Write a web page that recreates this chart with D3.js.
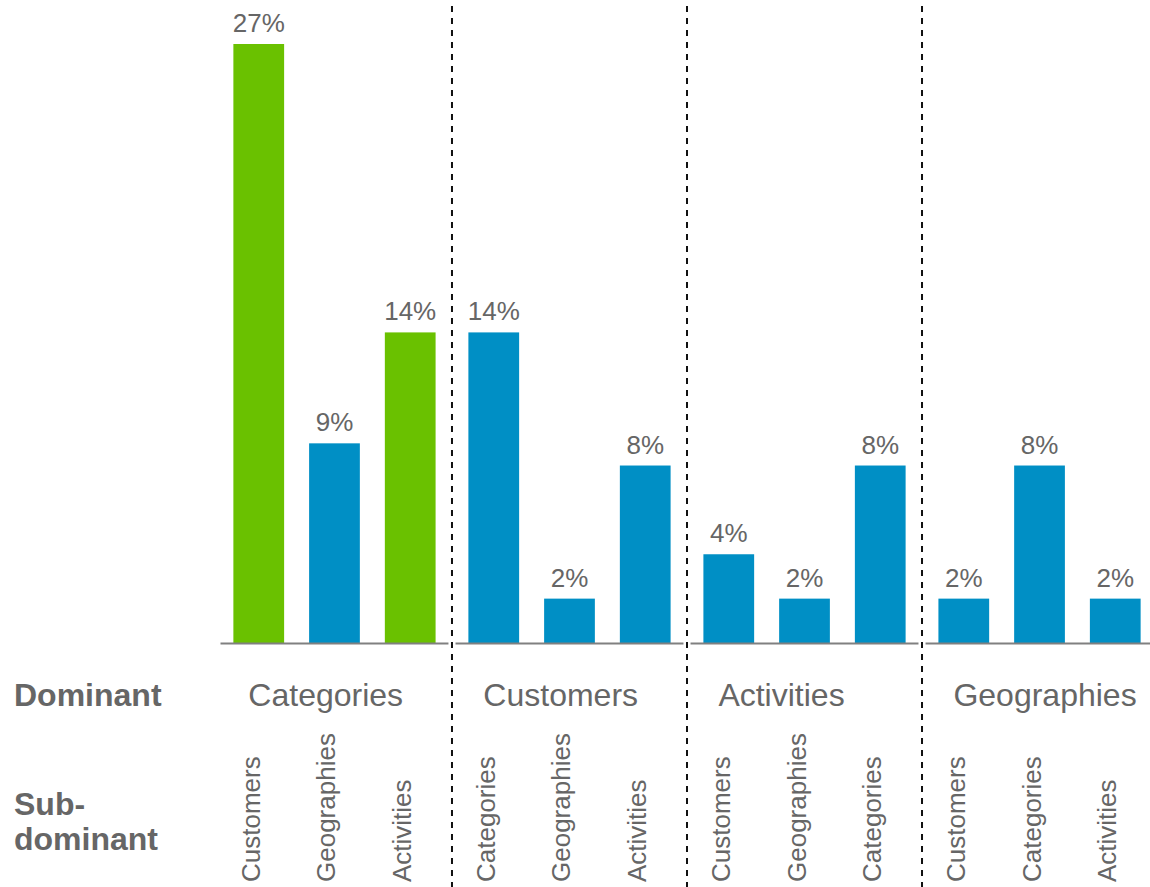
<!DOCTYPE html>
<html>
<head>
<meta charset="utf-8">
<script src="https://cdn.jsdelivr.net/npm/d3@7"></script>
<style>
  body { margin: 0; background: #fff; }
  text { font-family: "Liberation Sans", Arial, Helvetica, sans-serif; fill: #666; }
</style>
</head>
<body>
<svg width="1150" height="887"></svg>
<script>
    var svg = d3.select("svg"),
        width = +svg.attr("width"),
        height = +svg.attr("height");

    // dominant category for each group of bars
    var dominant = ["Categories", "Customers", "Activities", "Geographies"];
    // sub-dominant category of each bar, per group
    var subdominant = [
        ["Customers", "Geographies", "Activities"],
        ["Categories", "Geographies", "Activities"],
        ["Customers", "Geographies", "Categories"],
        ["Customers", "Categories", "Activities"]
    ];
    // share in %
    var shares = [
        [27, 9, 14],
        [14, 2, 8],
        [4, 2, 8],
        [2, 8, 2]
    ];
    // green bars
    var highlighted = [
        [true, false, true],
        [false, false, false],
        [false, false, false],
        [false, false, false]
    ];

    var green = "#6ac100", blue = "#008fc5";
    var baseY = 643;

    var x0 = d3.scaleBand()
        .domain(dominant)
        .range([220.5, 1153.5])
        .paddingInner(0.03)
        .paddingOuter(0);

    var x1 = d3.scaleBand()
        .domain([0, 1, 2])
        .range([0, x0.bandwidth()])
        .paddingInner(0.33)
        .paddingOuter(0.17);

    var y = d3.scaleLinear()
        .domain([0, 27])
        .range([baseY, 44]);

    var groups = dominant.map(function(name, i) {
        return {
            name: name,
            bars: shares[i].map(function(v, j) {
                return { sub: subdominant[i][j], value: v, hi: highlighted[i][j], j: j };
            })
        };
    });

    var group = svg.append("g")
        .attr("class", "groups")
        .selectAll("g")
        .data(groups)
        .enter().append("g")
        .attr("transform", function(d) { return "translate(" + x0(d.name) + ",0)"; });

    // bars
    group.selectAll("rect")
        .data(function(d) { return d.bars; })
        .enter().append("rect")
        .attr("x", function(d) { return x1(d.j); })
        .attr("y", function(d) { return y(d.value); })
        .attr("width", x1.bandwidth())
        .attr("height", function(d) { return baseY - y(d.value); })
        .attr("fill", function(d) { return d.hi ? green : blue; });

    // value labels
    group.selectAll("text.value")
        .data(function(d) { return d.bars; })
        .enter().append("text")
        .attr("class", "value")
        .attr("x", function(d) { return x1(d.j) + x1.bandwidth() / 2; })
        .attr("y", function(d) { return y(d.value) - 12; })
        .attr("text-anchor", "middle")
        .style("font-size", "26px")
        .text(function(d) { return d.value + "%"; });

    // axis segment under each group
    group.append("line")
        .attr("x1", 0)
        .attr("x2", x0.bandwidth())
        .attr("y1", baseY + 0.5)
        .attr("y2", baseY + 0.5)
        .attr("stroke", "#808080")
        .attr("stroke-width", 2);

    // dominant name
    group.append("text")
        .attr("x", x1(0) + 15)
        .attr("y", 706)
        .style("font-size", "32px")
        .text(function(d) { return d.name; });

    // sub-dominant names, rotated
    group.selectAll("text.sub")
        .data(function(d) { return d.bars; })
        .enter().append("text")
        .attr("class", "sub")
        .attr("transform", function(d) {
            return "translate(" + (x1(d.j) + x1.bandwidth() / 2 + 1) + ",882) rotate(-90)";
        })
        .style("font-size", "26px")
        .text(function(d) { return d.sub; });

    // dashed separators between groups
    var gap = x0.step() - x0.bandwidth();
    svg.append("g")
        .attr("class", "separators")
        .selectAll("line")
        .data(dominant.slice(1))
        .enter().append("line")
        .attr("x1", function(d) { return x0(d) - gap / 2; })
        .attr("x2", function(d) { return x0(d) - gap / 2; })
        .attr("y1", 6)
        .attr("y2", height)
        .attr("stroke", "#111")
        .attr("stroke-width", 2)
        .attr("stroke-dasharray", "6,6");

    // row titles
    var titles = svg.append("g")
        .style("font-size", "32px")
        .style("font-weight", "bold");
    titles.append("text").attr("x", 14).attr("y", 706).text("Dominant");
    titles.append("text").attr("x", 14).attr("y", 815).text("Sub-");
    titles.append("text").attr("x", 14).attr("y", 850).text("dominant");
</script>
</body>
</html>
